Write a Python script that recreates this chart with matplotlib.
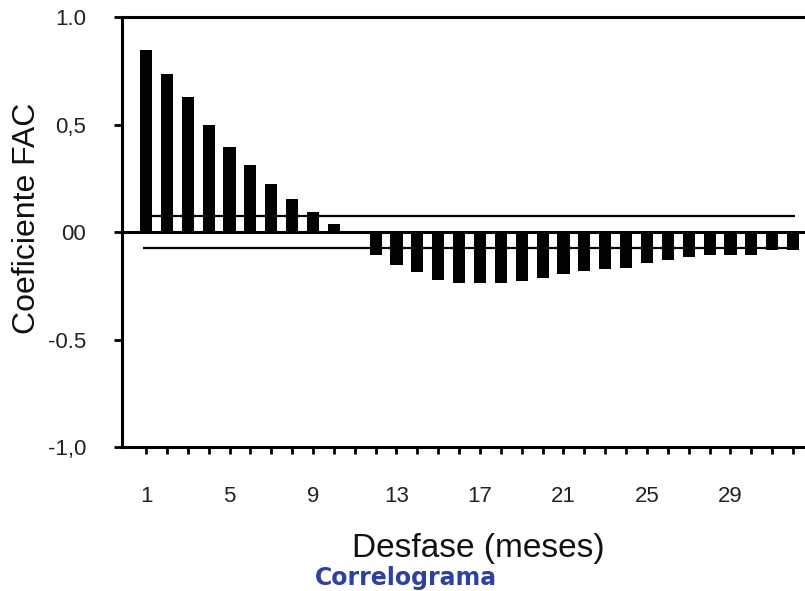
import numpy as np
import matplotlib.pyplot as plt

plt.rcParams['font.family'] = ['Liberation Sans', 'DejaVu Sans']

# desfases (meses) y coeficientes de autocorrelacion
desfases = np.arange(1, 33)
fac = [0.847, 0.735, 0.63, 0.498, 0.395, 0.31, 0.224, 0.153, 0.094, 0.036,
       0.0, -0.106, -0.152, -0.184, -0.222, -0.235, -0.235, -0.235, -0.227, -0.213,
       -0.195, -0.18, -0.172, -0.168, -0.145, -0.13, -0.115, -0.105, -0.105, -0.105,
       -0.085, -0.085]
limite_sup = 0.074
limite_inf = -0.075

yticks = [1.0, 0.5, 0.0, -0.5, -1.0]
yticklabels = ['1.0', '0,5', '00', '-0.5', '-1,0']
xticks = [1, 5, 9, 13, 17, 21, 25, 29]

fig = plt.figure(figsize=(8.05, 5.91), dpi=100)
ax = fig.add_axes([122/805, 1 - 447/591, 1 - 122/805, (447 - 17)/591])

ax.bar(desfases, fac, width=0.58, color='black', zorder=3)
ax.axhline(0, color='black', lw=2.2, zorder=4)
ax.hlines([limite_sup, limite_inf], desfases[0] - 0.15, desfases[-1] + 0.1,
          color='black', lw=1.6, zorder=2)

ax.set_xlim(-0.15, 32.57)
ax.set_ylim(-1.0, 1.0)

ax.spines['right'].set_visible(False)
for s in ['left', 'top', 'bottom']:
    ax.spines[s].set_linewidth(2.2)

ax.set_yticks(yticks)
ax.set_yticklabels(yticklabels, fontsize=16, color='#222222')
ax.tick_params(axis='y', direction='out', length=6, width=2, pad=20)

ax.set_xticks(desfases, minor=True)
ax.set_xticks(xticks)
ax.set_xticklabels([str(t) for t in xticks], fontsize=16, color='#222222')
ax.tick_params(axis='x', which='both', direction='out', length=5, width=2, pad=23)

fig.text(478/805, 1 - 549/591, 'Desfase (meses)', fontsize=24,
         ha='center', va='center', color='#111111')
fig.text(27/805, 1 - 218/591, 'Coeficiente FAC', fontsize=23,
         rotation=90, ha='center', va='center', color='#111111')
fig.text(406/805, 1 - 578/591, 'Correlograma', fontsize=17, fontweight='bold',
         color='#2e40a0', family='DejaVu Sans', ha='center', va='center')

plt.savefig('out.png', dpi=100)
